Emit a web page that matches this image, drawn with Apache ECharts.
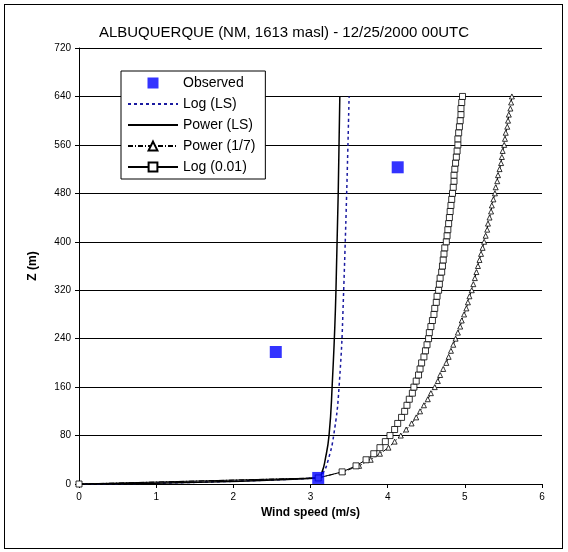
<!DOCTYPE html>
<html>
<head>
<meta charset="utf-8">
<script src="https://cdn.jsdelivr.net/npm/echarts@6/dist/echarts.min.js"></script>
<style>
    html, body { margin: 0; padding: 0; background: #fff; }
    #frame { position: absolute; left: 4px; top: 4px; width: 557px; height: 543px; border: 1px solid #000; }
    #chart { width: 568px; height: 552px; }
</style>
</head>
<body>
<div id="frame"></div>
<div id="chart"></div>
<script>
    // heights (m)
    var zSteps = [0, 10, 20, 30, 40, 50, 60, 70, 80, 90, 100, 110, 120, 130, 140, 150, 160, 170, 180, 190, 200,
        210, 220, 230, 240, 250, 260, 270, 280, 290, 300, 310, 320, 330, 340, 350, 360, 370, 380, 390, 400,
        410, 420, 430, 440, 450, 460, 470, 480, 490, 500, 510, 520, 530, 540, 550, 560, 570, 580, 590, 600,
        610, 620, 630, 640];
    var power17 = [0, 3.10, 3.42, 3.63, 3.78, 3.90, 4.01, 4.09, 4.17, 4.24, 4.31, 4.37, 4.42, 4.47, 4.52, 4.56, 4.61,
        4.65, 4.68, 4.72, 4.76, 4.79, 4.82, 4.85, 4.88, 4.91, 4.94, 4.96, 4.99, 5.02, 5.04, 5.06, 5.09, 5.11, 5.13,
        5.15, 5.17, 5.19, 5.21, 5.23, 5.25, 5.27, 5.29, 5.30, 5.32, 5.34, 5.35, 5.37, 5.39, 5.40, 5.42, 5.43, 5.45,
        5.47, 5.48, 5.49, 5.51, 5.52, 5.53, 5.55, 5.56, 5.57, 5.59, 5.60, 5.61];
    var log001 = [0, 3.10, 3.41, 3.59, 3.72, 3.82, 3.90, 3.97, 4.03, 4.09, 4.13, 4.18, 4.22, 4.25, 4.28, 4.32, 4.34,
        4.37, 4.40, 4.42, 4.44, 4.47, 4.49, 4.51, 4.53, 4.54, 4.56, 4.58, 4.60, 4.61, 4.63, 4.64, 4.66, 4.67, 4.68,
        4.70, 4.71, 4.72, 4.73, 4.74, 4.76, 4.77, 4.78, 4.79, 4.80, 4.81, 4.82, 4.83, 4.84, 4.85, 4.86, 4.86, 4.87,
        4.88, 4.89, 4.90, 4.91, 4.91, 4.92, 4.93, 4.94, 4.95, 4.95, 4.96, 4.97];
    var zLS = [0, 10, 20, 40, 80, 160, 320, 640];
    var logLS = [0, 3.10, 3.17, 3.23, 3.30, 3.37, 3.43, 3.50];
    var powerLS = [0, 3.10, 3.15, 3.19, 3.24, 3.28, 3.33, 3.38];
    var obsZ = [10, 218, 523];
    var obsU = [3.10, 2.55, 4.13];

    function pairs(u, z) {
        return u.map(function (v, i) { return [v, z[i]]; });
    }

    var myChart = echarts.init(document.getElementById('chart'));
    var font = 'Liberation Sans, Arial, sans-serif';
    var option = {
        animation: false,
        textStyle: { fontFamily: font },
        title: {
            text: 'ALBUQUERQUE (NM, 1613 masl) - 12/25/2000 00UTC',
            left: 'center', top: 20,
            textStyle: { fontSize: 15, fontWeight: 'normal', color: '#000', fontFamily: font }
        },
        grid: { left: 79, right: 26, top: 48, bottom: 68 },
        legend: {
            orient: 'vertical', left: 121, top: 71,
            padding: [5, 10, 5, 6], itemGap: 7, itemWidth: 50, itemHeight: 11,
            borderColor: '#000', borderWidth: 1, backgroundColor: '#fff',
            textStyle: { fontSize: 14, color: '#000', fontFamily: font },
            data: [
                { name: 'Observed', icon: 'path://M0,0h1v1h-1z' },
                { name: 'Log (LS)', itemStyle: { opacity: 0 } },
                { name: 'Power (LS)', itemStyle: { opacity: 0 } },
                'Power (1/7)',
                'Log (0.01)'
            ]
        },
        xAxis: {
            type: 'value', min: 0, max: 6, interval: 1,
            name: 'Wind speed (m/s)', nameLocation: 'middle', nameGap: 22,
            nameTextStyle: { fontWeight: 'bold', fontSize: 12, color: '#000' },
            axisLine: { lineStyle: { color: '#000' } },
            axisTick: { inside: false, length: 4, lineStyle: { color: '#000' } },
            axisLabel: { fontSize: 10, color: '#000' },
            splitLine: { show: false }
        },
        yAxis: {
            type: 'value', min: 0, max: 720, interval: 80,
            name: 'Z (m)', nameLocation: 'middle', nameGap: 40,
            nameTextStyle: { fontWeight: 'bold', fontSize: 12, color: '#000' },
            axisLine: { show: true, lineStyle: { color: '#000' } },
            axisTick: { show: true, length: 4, lineStyle: { color: '#000' } },
            axisLabel: { fontSize: 10, color: '#000' },
            splitLine: { lineStyle: { color: '#000', width: 1 } }
        },
        series: [
            {
                name: 'Log (LS)', type: 'line', smooth: true, symbol: 'none',
                lineStyle: { color: '#1a1aa0', width: 1.5, type: [3, 3] },
                itemStyle: { color: '#1a1aa0' },
                data: pairs(logLS, zLS)
            },
            {
                name: 'Power (LS)', type: 'line', smooth: true, symbol: 'none',
                lineStyle: { color: '#000', width: 1.5 },
                itemStyle: { color: '#000' },
                data: pairs(powerLS, zLS)
            },
            {
                name: 'Power (1/7)', type: 'line', symbol: 'triangle', symbolSize: 5,
                lineStyle: { color: '#000', width: 1, type: [5, 2, 1, 2] },
                itemStyle: { color: '#fff', borderColor: '#000', borderWidth: 0.8 },
                data: pairs(power17, zSteps)
            },
            {
                name: 'Log (0.01)', type: 'line', symbol: 'rect', symbolSize: 6,
                lineStyle: { color: '#000', width: 1 },
                itemStyle: { color: '#fff', borderColor: '#000', borderWidth: 0.8 },
                data: pairs(log001, zSteps)
            },
            {
                name: 'Observed', type: 'scatter', symbol: 'rect', symbolSize: 12,
                symbolKeepAspect: true,
                itemStyle: { color: '#0000ff' }, z: 5,
                data: pairs(obsU, obsZ)
            }
        ]
    };
    myChart.setOption(option);
</script>
</body>
</html>
